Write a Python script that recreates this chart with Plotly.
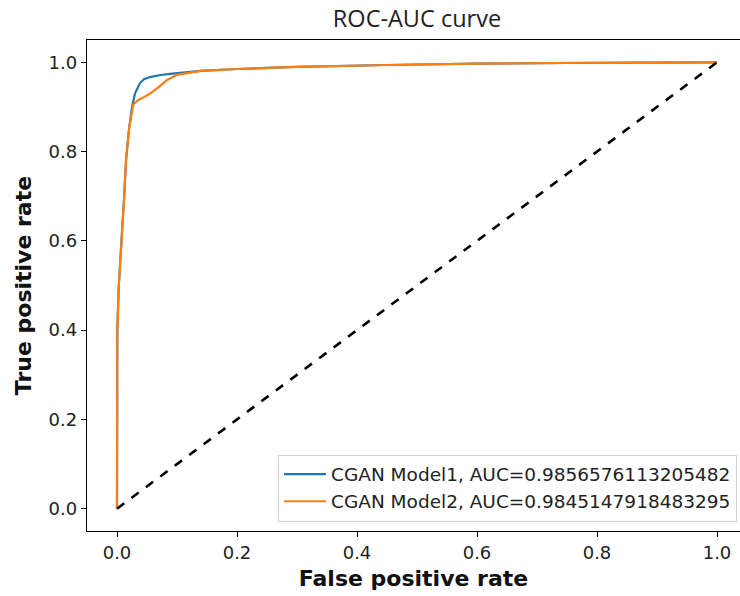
import plotly.graph_objects as go

fpr1 = [0, 0, 0.0005, 0.003, 0.008, 0.012, 0.015, 0.02, 0.025, 0.03, 0.038, 0.045,
        0.055, 0.07, 0.088, 0.11, 0.14, 0.2, 0.3, 0.45, 0.6, 0.8, 1.0]
tpr1 = [0, 0.3, 0.4, 0.5, 0.6, 0.7, 0.78, 0.85, 0.9, 0.93, 0.953, 0.962,
        0.967, 0.971, 0.974, 0.977, 0.981, 0.985, 0.99, 0.994, 0.997, 0.999, 1.0]

fpr2 = [0, 0, 0.0005, 0.003, 0.008, 0.012, 0.015, 0.02, 0.027, 0.035, 0.045, 0.055,
        0.07, 0.083, 0.1, 0.12, 0.14, 0.2, 0.3, 0.45, 0.6, 0.8, 1.0]
tpr2 = [0, 0.3, 0.4, 0.5, 0.6, 0.7, 0.78, 0.85, 0.905, 0.915, 0.922, 0.93,
        0.945, 0.96, 0.972, 0.977, 0.981, 0.985, 0.99, 0.994, 0.997, 0.999, 1.0]

diag_x = [0, 1]
diag_y = [0, 1]

names = ["CGAN Model1, AUC=0.9856576113205482", "CGAN Model2, AUC=0.9845147918483295"]
ticks = [0.0, 0.2, 0.4, 0.6, 0.8, 1.0]

fig = go.Figure()
fig.add_trace(go.Scatter(x=fpr1, y=tpr1, mode="lines", name=names[0],
                         line=dict(color="#1f77b4", width=2.2)))
fig.add_trace(go.Scatter(x=fpr2, y=tpr2, mode="lines", name=names[1],
                         line=dict(color="#ff7f0e", width=2.2)))
fig.add_trace(go.Scatter(x=diag_x, y=diag_y, mode="lines", showlegend=False,
                         line=dict(color="black", width=2.6, dash="dash")))

font = "DejaVu Sans"
fig.update_layout(
    width=740, height=596,
    margin=dict(l=87, r=0, t=39.6, b=64.6),
    paper_bgcolor="white", plot_bgcolor="white",
    font=dict(family=font, color="#222", size=14),
    title=dict(text="ROC-AUC curve", x=417 / 740, xanchor="center",
               y=1 - 19 / 596, yanchor="middle",
               font=dict(family="Open Sans", size=23.5, color="#222")),
    legend=dict(x=0.9954, xanchor="right", y=0.019, yanchor="bottom",
                bgcolor="white", bordercolor="#d0d0d0", borderwidth=1,
                itemwidth=42,
                font=dict(size=18.5, color="#222"), tracegroupgap=0),
    showlegend=True,
)
fig.update_xaxes(range=[-0.05, -0.05 + 653 / 600], tickvals=ticks,
                 ticktext=[f"{t:.1f}" for t in ticks],
                 showgrid=False, zeroline=False, showline=True, linecolor="black",
                 linewidth=1.3, mirror=True, ticks="outside", ticklen=5, tickcolor="black",
                 tickfont=dict(size=18),
                 title=dict(text="<b>False positive rate</b>", font=dict(size=22, color="#111"),
                            standoff=8))
fig.update_yaxes(range=[-0.05, 1.05], tickvals=ticks,
                 ticktext=[f"{t:.1f}" for t in ticks],
                 showgrid=False, zeroline=False, showline=True, linecolor="black",
                 linewidth=1.3, mirror=False, ticks="outside", ticklen=5, tickcolor="black",
                 tickfont=dict(size=18),
                 title=dict(text="<b>True positive rate</b>", font=dict(size=22, color="#111"),
                            standoff=10))

fig.write_html("out.html")
